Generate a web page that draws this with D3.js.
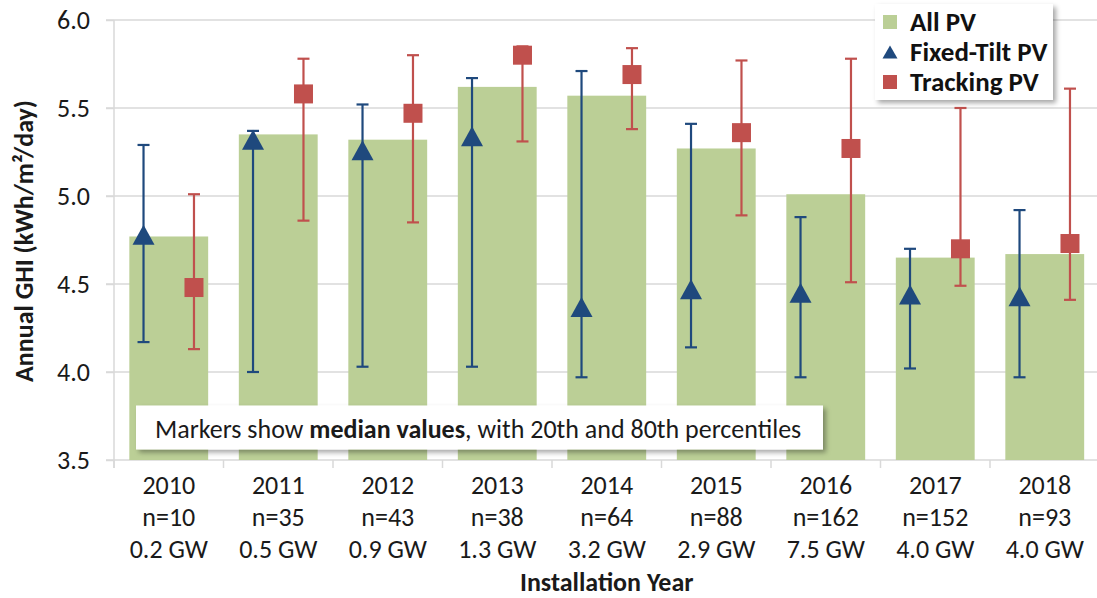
<!DOCTYPE html>
<html>
<head>
<meta charset="utf-8">
<script src="https://cdn.jsdelivr.net/npm/d3@7"></script>
<style>
  html, body { margin: 0; padding: 0; background: #fff; }
  svg { display: block; font-family: Carlito, Lato, "Open Sans", sans-serif; }
</style>
</head>
<body>
<svg id="chart" width="1097" height="598"></svg>
<script>
// ---- data ----
const years = ["2010","2011","2012","2013","2014","2015","2016","2017","2018"];
const sampleCounts = ["n=10","n=35","n=43","n=38","n=64","n=88","n=162","n=152","n=93"];
const capacities = ["0.2 GW","0.5 GW","0.9 GW","1.3 GW","3.2 GW","2.9 GW","7.5 GW","4.0 GW","4.0 GW"];

const allPV = [4.77, 5.35, 5.32, 5.62, 5.57, 5.27, 5.01, 4.65, 4.67];

const fixedMedian = [4.78, 5.32, 5.26, 5.34, 4.37, 4.47, 4.45, 4.44, 4.43];
const fixedP20    = [4.17, 4.00, 4.03, 4.03, 3.97, 4.14, 3.97, 4.02, 3.97];
const fixedP80    = [5.29, 5.37, 5.52, 5.67, 5.71, 5.41, 4.88, 4.70, 4.92];

const trackMedian = [4.48, 5.58, 5.47, 5.80, 5.69, 5.36, 5.27, 4.70, 4.73];
const trackP20    = [4.13, 4.86, 4.85, 5.31, 5.38, 4.89, 4.51, 4.49, 4.41];
const trackP80    = [5.01, 5.78, 5.80, 5.85, 5.84, 5.77, 5.78, 5.50, 5.61];

const yTicks = [3.5, 4.0, 4.5, 5.0, 5.5, 6.0];
const legendLabels = ["All PV", "Fixed-Tilt PV", "Tracking PV"];
const yTitle = "Annual GHI (kWh/m\u00B2/day)";
const xTitle = "Installation Year";

(function () {
// ---- style ----
const GREEN = "#BBCF96", BLUE = "#1F497D", RED = "#C0504D", GRID = "#D9D9D9", TEXT = "#1a1a1a";
const FS = 26;

const svg = d3.select("#chart");
const defs = svg.append("defs");
const sh = defs.append("filter").attr("id","shadow").attr("x","-10%").attr("y","-20%").attr("width","130%").attr("height","160%");
sh.append("feDropShadow").attr("dx",3).attr("dy",3).attr("stdDeviation",2.5).attr("flood-color","#000").attr("flood-opacity",0.35);

const pL = 114, pR = 1099.5, pT = 20, pB = 460;
const x = d3.scaleBand().domain(years).range([pL, pR]).paddingInner(0.28).paddingOuter(0.14);
const y = d3.scaleLinear().domain([3.5, 6.0]).range([pB, pT]);

// gridlines
svg.append("g").selectAll("line").data(yTicks.filter(t => t > 3.5)).join("line")
  .attr("x1", pL - 8).attr("x2", 1097)
  .attr("y1", d => y(d)).attr("y2", d => y(d))
  .attr("stroke", GRID).attr("stroke-width", 1.5);

// y axis
const yAxis = svg.append("g").attr("transform", `translate(${pL},0)`)
  .call(d3.axisLeft(y).tickValues(yTicks).tickFormat(d3.format(".1f")).tickSize(8).tickPadding(16));
yAxis.select(".domain").attr("stroke", GRID).attr("stroke-width", 1.5).attr("d", `M0,${pT}V${pB + 8}`);
yAxis.selectAll(".tick line").attr("stroke", GRID).attr("stroke-width", 1.5);
yAxis.selectAll(".tick text").attr("font-size", FS).attr("fill", TEXT).attr("font-family", "Carlito, Lato, sans-serif").attr("dy", "0.33em");

// x axis baseline + ticks at band boundaries
const step = x.step();
const boundaries = d3.range(years.length + 1).map(i => i === years.length ? x(years[i-1]) + x.bandwidth() / 2 + step / 2 : x(years[i]) + x.bandwidth() / 2 - step / 2);
svg.append("line").attr("x1", pL - 8).attr("x2", 1097).attr("y1", pB).attr("y2", pB).attr("stroke", GRID).attr("stroke-width", 1.5);
svg.append("g").selectAll("line").data(boundaries).join("line")
  .attr("x1", d => d).attr("x2", d => d).attr("y1", pB).attr("y2", pB + 8)
  .attr("stroke", GRID).attr("stroke-width", 1.5);

// bars
svg.append("g").selectAll("rect").data(years).join("rect")
  .attr("x", d => x(d)).attr("width", x.bandwidth())
  .attr("y", (d, i) => y(allPV[i])).attr("height", (d, i) => y(3.5) - y(allPV[i]))
  .attr("fill", GREEN);

const off = x.bandwidth() * 0.32;
const cx = (i, s) => x(years[i]) + x.bandwidth() / 2 + s * off;

function errorBars(g, p20, p80, color, s) {
  g.selectAll("line.v").data(years).join("line").attr("class","v")
    .attr("x1", (d,i) => cx(i,s)).attr("x2", (d,i) => cx(i,s))
    .attr("y1", (d,i) => y(p20[i])).attr("y2", (d,i) => y(p80[i]))
    .attr("stroke", color).attr("stroke-width", 2.2);
  [p20, p80].forEach((arr, k) => {
    g.selectAll("line.c" + k).data(years).join("line").attr("class","c" + k)
      .attr("x1", (d,i) => cx(i,s) - 6).attr("x2", (d,i) => cx(i,s) + 6)
      .attr("y1", (d,i) => y(arr[i])).attr("y2", (d,i) => y(arr[i]))
      .attr("stroke", color).attr("stroke-width", 2.2);
  });
}
const gF = svg.append("g"); errorBars(gF, fixedP20, fixedP80, BLUE, -1);
const gT = svg.append("g"); errorBars(gT, trackP20, trackP80, RED, 1);

// triangles
const triPath = (w, h) => `M0,${-h/2}L${w/2},${h/2}L${-w/2},${h/2}Z`;
gF.selectAll("path").data(years).join("path")
  .attr("d", triPath(22, 20))
  .attr("transform", (d,i) => `translate(${cx(i,-1)},${y(fixedMedian[i])})`)
  .attr("fill", BLUE);
// squares
gT.selectAll("rect").data(years).join("rect")
  .attr("x", (d,i) => cx(i,1) - 9.5).attr("y", (d,i) => y(trackMedian[i]) - 9.5)
  .attr("width", 19).attr("height", 19)
  .attr("fill", RED);

// x labels (three lines)
const xl = svg.append("g").attr("font-size", FS).attr("fill", TEXT).attr("text-anchor", "middle");
[years, sampleCounts, capacities].forEach((arr, k) => {
  xl.selectAll("text.l" + k).data(arr).join("text").attr("class", "l" + k)
    .attr("x", (d,i) => x(years[i]) + x.bandwidth() / 2)
    .attr("y", 494 + k * 32)
    .text(d => d);
});

// annotation box
const ann = svg.append("g");
ann.append("rect").attr("x", 136).attr("y", 405.5).attr("width", 687).attr("height", 44)
  .attr("fill", "#fff").attr("filter", "url(#shadow)");
const at = ann.append("text").attr("x", 155).attr("y", 437.5).attr("font-size", FS).attr("fill", TEXT);
at.append("tspan").text("Markers show ");
at.append("tspan").attr("font-weight", "bold").text("median values");
at.append("tspan").text(", with 20th and 80th percentiles");

// legend
const lg = svg.append("g");
lg.append("rect").attr("x", 875).attr("y", 4).attr("width", 178).attr("height", 96)
  .attr("fill", "#fff").attr("filter", "url(#shadow)");
const lgItems = lg.selectAll("g.item").data(legendLabels).join("g").attr("class", "item")
  .attr("transform", (d,i) => `translate(890,${22 + i * 30})`);
lgItems.each(function(d, i) {
  const g = d3.select(this);
  if (i === 0) g.append("rect").attr("x", -7).attr("y", -7).attr("width", 14).attr("height", 14).attr("fill", GREEN);
  if (i === 1) g.append("path").attr("d", triPath(15, 13)).attr("fill", BLUE);
  if (i === 2) g.append("rect").attr("x", -7).attr("y", -7).attr("width", 14).attr("height", 14).attr("fill", RED);
  g.append("text").attr("x", 20).attr("y", 8.5).attr("font-size", 27).attr("font-weight", "bold").attr("fill", "#111").text(d);
});

// axis titles
svg.append("text").attr("transform", `translate(33,${(pT + pB) / 2 + 1}) rotate(-90)`)
  .attr("text-anchor", "middle").attr("font-size", FS).attr("font-weight", "bold").attr("fill", TEXT).text(yTitle);
svg.append("text").attr("x", (pL + pR) / 2).attr("y", 591)
  .attr("text-anchor", "middle").attr("font-size", FS).attr("font-weight", "bold").attr("fill", TEXT).text(xTitle);
})();
</script>
</body>
</html>
